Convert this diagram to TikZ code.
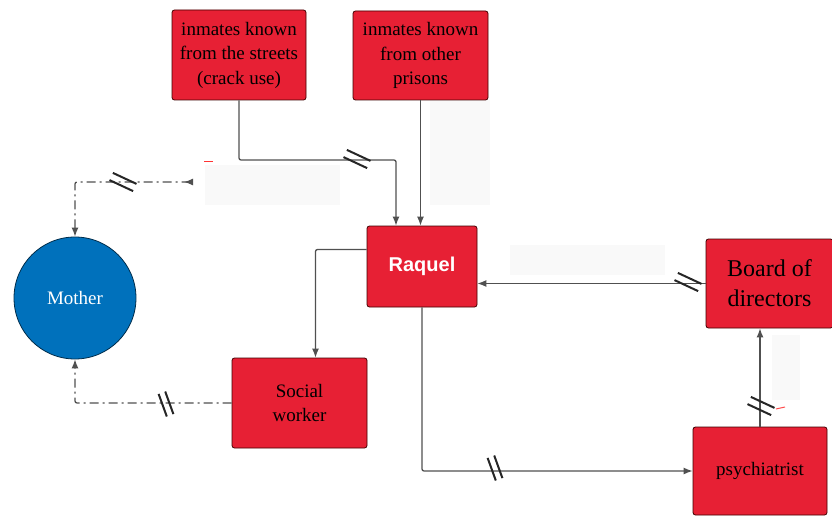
\documentclass[tikz,border=0pt]{standalone}
\usepackage{fontspec}
\setmainfont{Liberation Serif}
\newfontfamily\raqfont{Liberation Sans}
\usetikzlibrary{arrows.meta}
\definecolor{boxRed}{RGB}{231,32,52}
\definecolor{motherBlue}{RGB}{0,113,188}
\definecolor{lineGray}{RGB}{80,80,80}
\definecolor{paleGray}{RGB}{249,249,249}
\tikzset{
  redbox/.style={draw=black!75!red,line width=0.8pt,fill=boxRed,rounded corners=2.5pt,
    align=center,inner sep=0pt,font=\fontsize{19}{24.5}\selectfont},
  conn/.style={draw=lineGray,line width=1.3pt,rounded corners=2pt,
    -{Latex[length=9pt,width=7pt]}},
  dashconn/.style={conn,dash pattern=on 9pt off 4pt on 2pt off 4pt},
  brk/.pic={\draw[black!85,line width=2pt] (-10.1,-9.1) -- (13.5,1.9) (-13.5,-1.9) -- (10.1,9.1);},
  brksteep/.pic={\draw[black!85,line width=2pt] (-0.8,-12.5) -- (7.4,10.1) (-7.4,-10.1) -- (0.8,12.5);}
}
\begin{document}
\begin{tikzpicture}[x=1pt,y=-1pt]
\path[use as bounding box,fill=white] (0,0) rectangle (832,516);

\fill[paleGray] (205,165) rectangle (340,205);
\fill[paleGray] (430,100) rectangle (490,205);
\fill[paleGray] (510,245) rectangle (665,275);
\fill[paleGray] (772,335) rectangle (800,400);
\draw[red!80,line width=1pt] (204,161) -- (213,161);
\draw[red!70,line width=1pt] (776,409) -- (785,407);

\node[redbox,minimum width=134pt,minimum height=90pt] (streets) at (239,55)
  {inmates known\\from the streets\\(crack use)};
\node[redbox,minimum width=135pt,minimum height=89pt] (prisons) at (420.5,55.5)
  {inmates known\\from other\\prisons};
\node[redbox,minimum width=110pt,minimum height=81pt,text=white,
  font=\raqfont\bfseries\fontsize{20}{24}\selectfont] (raquel) at (422,266.5) {Raquel};
\node[redbox,minimum width=127pt,minimum height=89pt,
  font=\fontsize{24}{30}\selectfont] (board) at (769.5,283.5) {Board of\\directors};
\node[redbox,minimum width=134pt,minimum height=88pt] (psych) at (760,471)
  {\raisebox{4pt}{psychiatrist}};
\node[redbox,minimum width=135pt,minimum height=90pt] (social) at (299.5,403)
  {\raisebox{6pt}{\parbox{120pt}{\centering Social\\worker}}};
\node[circle,draw=black!60!motherBlue,line width=0.8pt,fill=motherBlue,minimum size=122pt,
  text=white,font=\fontsize{19}{22}\selectfont] (mother) at (75,298) {Mother};

\coordinate (turnA) at (396,160);
\coordinate (loose) at (193,182);

\draw[conn] (streets.south) |- (turnA) -- (turnA |- raquel.north);
\draw[conn] (prisons.south) -- (prisons.south |- raquel.north);
\draw[conn] ([yshift=17pt]raquel.west) -| ([xshift=16pt]social.north);
\draw[conn] (raquel.south) |- (psych.west);
\draw[conn] (board.west) -- (board.west -| raquel.east);
\draw[conn] (psych.north) -- (psych.north |- board.south);
\draw[dashconn,{Latex[length=9pt,width=7pt]}-{Latex[length=9pt,width=7pt,reversed]}]
  (mother.north) |- (loose);
\draw[dashconn] (social.west) -| (mother.south);

\pic at (357,159) {brk};
\pic at (123,182) {brk};
\pic at (688,282) {brk};
\pic at (761,406) {brk};
\pic at (166,404) {brksteep};
\pic at (495,468) {brksteep};
\end{tikzpicture}
\end{document}
